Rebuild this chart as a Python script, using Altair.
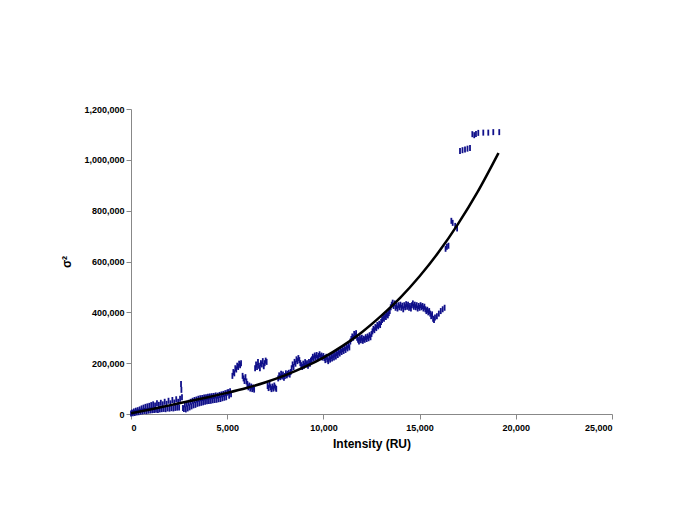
import altair as alt
import pandas as pd

# Scatter data: intensity (RU) and variance (thousands)
pts = [
    (0, 2), (50, 6), (100, 3), (150, 10), (200, 4), (250, 13), (300, 6), (350, 15), (400, 7), (450, 18), (500, 9),
    (550, 22), (600, 10), (650, 25), (700, 12), (750, 28), (800, 11), (850, 30), (900, 13), (950, 32), (1000, 14),
    (1050, 35), (1100, 15), (1150, 38), (1200, 16), (1250, 33), (1300, 17), (1350, 42), (1400, 16), (1450, 36),
    (1500, 18), (1550, 44), (1600, 19), (1650, 38), (1700, 20), (1750, 48), (1800, 19), (1850, 40), (1900, 22),
    (1950, 52), (2000, 21), (2050, 42), (2100, 23), (2150, 55), (2200, 22), (2250, 45), (2300, 24), (2350, 58),
    (2400, 25), (2450, 48), (2500, 26), (2550, 60), (2600, 118), (2620, 95), (2650, 66), (2700, 24), (2750, 20),
    (2800, 38), (2850, 18), (2900, 40), (2950, 22), (3000, 44), (3050, 26), (3100, 48), (3150, 30), (3200, 52),
    (3250, 34), (3300, 55), (3350, 36), (3400, 57), (3450, 40), (3500, 60), (3550, 42), (3600, 62), (3650, 44),
    (3700, 63), (3750, 46), (3800, 65), (3850, 48), (3900, 66), (3950, 50), (4000, 68), (4050, 51), (4100, 69),
    (4150, 52), (4200, 70), (4250, 54), (4300, 71), (4350, 55), (4400, 73), (4450, 56), (4500, 72), (4550, 58),
    (4600, 75), (4650, 59), (4700, 77), (4750, 62), (4800, 79), (4850, 64), (4900, 82), (4950, 66), (5000, 84),
    (5050, 86), (5100, 72), (5150, 90), (5200, 78),
    (5270, 150), (5320, 165), (5370, 160), (5420, 180), (5470, 175), (5520, 190), (5570, 185), (5620, 198),
    (5670, 192), (5720, 200),
    (5800, 150), (5850, 140), (5900, 130), (5950, 145), (6000, 128),
    (6050, 118), (6100, 105), (6150, 112), (6200, 100), (6250, 108), (6300, 98), (6350, 104), (6400, 96),
    (6450, 180), (6500, 195), (6550, 185), (6600, 205), (6650, 190), (6700, 180), (6750, 200), (6800, 195),
    (6850, 208), (6900, 188), (6950, 200), (7000, 210), (7050, 205),
    (7100, 110), (7150, 102), (7200, 115), (7250, 105), (7300, 98), (7350, 108), (7400, 100), (7450, 112),
    (7500, 104), (7550, 99),
    (7650, 140), (7700, 152), (7750, 145), (7800, 158), (7850, 148), (7900, 155), (7950, 143), (8000, 150),
    (8050, 160), (8100, 152), (8150, 158), (8200, 162), (8250, 155), (8300, 165),
    (8350, 180), (8400, 195), (8450, 185), (8500, 205), (8550, 198), (8600, 215), (8650, 208), (8700, 220),
    (8750, 212), (8800, 200), (8850, 192),
    (8900, 185), (8950, 198), (9000, 190), (9050, 204), (9100, 195), (9150, 200), (9200, 190), (9250, 205),
    (9300, 198), (9350, 210),
    (9400, 215), (9450, 225), (9500, 218), (9550, 230), (9600, 222), (9650, 232), (9700, 220), (9750, 228),
    (9800, 235), (9850, 225), (9900, 230), (9950, 222), (10000, 228),
    (10050, 220), (10100, 212), (10150, 225), (10200, 215), (10250, 208), (10300, 222), (10350, 214),
    (10400, 228), (10450, 218), (10500, 232), (10550, 222), (10600, 235), (10650, 226), (10700, 240),
    (10750, 232), (10800, 245),
    (10850, 238), (10900, 250), (10950, 244), (11000, 255), (11050, 248), (11100, 260), (11150, 252),
    (11200, 265), (11250, 258), (11300, 270), (11350, 262),
    (11400, 285), (11450, 295), (11500, 305), (11550, 300), (11600, 315), (11650, 308), (11700, 318), (11750, 300),
    (11800, 292), (11850, 285), (11900, 298), (11950, 290), (12000, 300), (12050, 288), (12100, 296),
    (12150, 292), (12200, 302), (12250, 295), (12300, 305), (12350, 298), (12400, 310), (12450, 302), (12500, 315),
    (12550, 325), (12600, 335), (12650, 330), (12700, 342), (12750, 338), (12800, 350), (12850, 345),
    (12900, 355), (12950, 350), (13000, 362),
    (13050, 370), (13100, 378), (13150, 375), (13200, 385), (13250, 382), (13300, 392), (13350, 388), (13400, 397),
    (13450, 405), (13500, 420), (13550, 430), (13600, 438), (13650, 425), (13700, 435), (13750, 418),
    (13800, 425), (13850, 415), (13900, 428), (13950, 420), (14000, 430), (14050, 418), (14100, 426),
    (14150, 412), (14200, 428), (14250, 420), (14300, 432), (14350, 422), (14400, 430), (14450, 418),
    (14500, 425), (14550, 415),
    (14600, 428), (14650, 435), (14700, 422), (14750, 430), (14800, 420), (14850, 428), (14900, 415),
    (14950, 425), (15000, 418), (15050, 428), (15100, 420), (15150, 425), (15200, 415), (15250, 422),
    (15300, 412), (15350, 405), (15400, 410), (15450, 400), (15500, 405),
    (15550, 395), (15600, 385), (15650, 392), (15700, 375), (15750, 370), (15800, 380),
    (15900, 385), (16000, 395), (16100, 405), (16200, 412), (16300, 418),
    (16350, 650), (16420, 658), (16500, 662),
    (16650, 760), (16720, 752), (16850, 740), (16950, 730),
    (17100, 1035), (17230, 1038), (17360, 1041), (17490, 1044), (17620, 1047),
    (17740, 1101), (17840, 1097), (17930, 1102), (18050, 1106), (18310, 1107), (18570, 1107),
    (18830, 1109), (19140, 1109),
]
intensity = [p[0] for p in pts]
variance = [p[1] * 1000 for p in pts]

# Trend curve
curve_x = [0, 1000, 2000, 3000, 4000, 5000, 6000, 7000, 8000, 9000, 10000, 11000, 12000,
           13000, 14000, 15000, 16000, 17000, 18000, 19100]
curve_y = [3, 18, 34, 50, 66, 83, 102, 125, 152, 184, 222, 268, 322,
           386, 458, 542, 638, 748, 872, 1027]
curve_y = [v * 1000 for v in curve_y]

df = pd.DataFrame({"x": intensity, "y": variance})
dc = pd.DataFrame({"x": curve_x, "y": curve_y})

xscale = alt.Scale(domain=[0, 25000], nice=False, zero=True)
yscale = alt.Scale(domain=[0, 1200000], nice=False)

xaxis = alt.Axis(values=[0, 5000, 10000, 15000, 20000, 25000], format=",.0f", grid=False,
                 title="Intensity (RU)", labelPadding=4, titlePadding=6)
yaxis = alt.Axis(values=[0, 200000, 400000, 600000, 800000, 1000000, 1200000], format=",.0f",
                 grid=False, title="σ²", labelPadding=2, titlePadding=10)

pts_layer = alt.Chart(df).mark_tick(orient="vertical", size=6, thickness=1.8, color="#10108a",
                                    opacity=1).encode(
    x=alt.X("x:Q", scale=xscale, axis=xaxis),
    y=alt.Y("y:Q", scale=yscale, axis=yaxis),
)

line_layer = alt.Chart(dc).mark_line(color="black", strokeWidth=2.5, interpolate="monotone").encode(
    x=alt.X("x:Q", scale=xscale),
    y=alt.Y("y:Q", scale=yscale),
)

chart = alt.layer(pts_layer, line_layer).properties(
    width=481, height=305,
    autosize=alt.AutoSizeParams(type="none"),
    padding={"left": 123, "top": 101, "right": 60, "bottom": 100},
).configure_view(stroke=None).configure_axis(
    domainColor="#888888", tickColor="#888888", tickSize=5, domainWidth=1,
    labelFont="Liberation Sans", labelFontSize=9, labelFontWeight="bold", labelColor="black",
    titleFont="Liberation Sans", titleFontSize=12, titleFontWeight="bold", titleColor="black",
).configure_axisY(titleAngle=-90, titleBaseline="bottom")

chart.save("out.html", embed_options={"renderer": "svg", "actions": False})
